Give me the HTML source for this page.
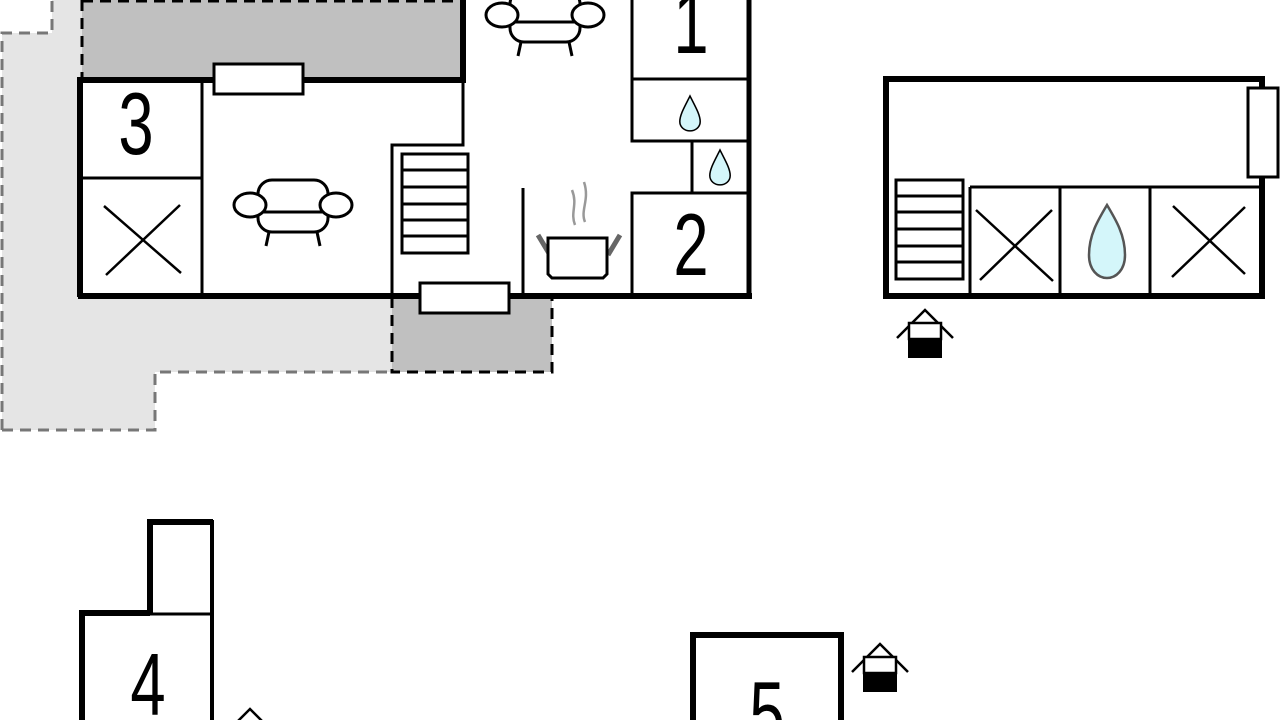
<!DOCTYPE html>
<html><head><meta charset="utf-8"><style>
html,body{margin:0;padding:0;background:#fff;width:1280px;height:720px;overflow:hidden;}
svg{display:block;}
text{font-family:"Liberation Sans",sans-serif;}
</style></head><body>
<svg width="1280" height="720" viewBox="0 0 1280 720" xmlns="http://www.w3.org/2000/svg" overflow="hidden">
<defs>
<g id="chair" fill="white" stroke="#000" stroke-width="3">
<rect x="-35" y="-30" width="70" height="52" rx="14"/>
<line x1="-33" y1="2" x2="33" y2="2"/>
<line x1="-24" y1="22" x2="-27" y2="36"/>
<line x1="24" y1="22" x2="27" y2="36"/>
<ellipse cx="-43" cy="-5" rx="16" ry="12"/>
<ellipse cx="43" cy="-5" rx="16" ry="12"/>
</g>
<g id="house">
<polyline points="-28,4 0,-24 28,4" fill="none" stroke="#000" stroke-width="2.5"/>
<rect x="-16" y="-11" width="32" height="16" fill="#fff" stroke="#000" stroke-width="2.5"/>
<rect x="-17" y="5" width="34" height="19" fill="#000"/>
</g>
<g id="drop"><path d="M0,-20 C6,-8 12,2 12,10 C12,17 6,21 0,21 C-6,21 -12,17 -12,10 C-12,2 -6,-8 0,-20Z" fill="#d4f6fa" stroke="#000" stroke-width="1.8"/></g>
</defs>

<path d="M2,33 L52,33 L52,0 L465,0 L465,297 L392,297 L392,372 L155,372 L155,430 L2,430 Z" fill="#e5e5e5"/>
<path d="M2,430 L2,33 L52,33 L52,0" fill="none" stroke="#777" stroke-width="3" stroke-dasharray="11,7"/>
<path d="M2,430 L155,430 L155,372 L392,372" fill="none" stroke="#777" stroke-width="3" stroke-dasharray="11,7"/>
<rect x="82" y="0" width="381" height="80" fill="#c0c0c0"/>
<line x1="82" y1="0" x2="82" y2="80" stroke="#000" stroke-width="3" stroke-dasharray="11,7"/>
<line x1="82" y1="1" x2="463" y2="1" stroke="#000" stroke-width="3" stroke-dasharray="11,7"/>
<rect x="392" y="297" width="160" height="75" fill="#c0c0c0"/>
<path d="M392,297 L392,372 L552,372 L552,297" fill="none" stroke="#000" stroke-width="3" stroke-dasharray="11,7"/>

<rect x="82" y="80" width="381" height="217" fill="#fff"/>
<rect x="463" y="0" width="287" height="297" fill="#fff"/>

<g stroke="#000" fill="none">
<path d="M80,297 L80,80 L463,80 L463,0" stroke-width="6"/>
<line x1="78" y1="296" x2="752" y2="296" stroke-width="6"/>
<line x1="749" y1="0" x2="749" y2="299" stroke-width="5"/>
<line x1="202" y1="80" x2="202" y2="297" stroke-width="3"/>
<line x1="80" y1="178" x2="202" y2="178" stroke-width="3"/>
<path d="M463,80 L463,145 L392,145 L392,297" stroke-width="3"/>
<line x1="523" y1="188" x2="523" y2="297" stroke-width="3"/>
<path d="M632,0 L632,141 L750,141" stroke-width="3"/>
<line x1="632" y1="79" x2="750" y2="79" stroke-width="3"/>
<line x1="692" y1="141" x2="692" y2="193" stroke-width="3"/>
<path d="M750,193 L632,193 L632,297" stroke-width="3"/>
<line x1="104" y1="206" x2="181" y2="273" stroke-width="2.5"/>
<line x1="180" y1="205" x2="106" y2="275" stroke-width="2.5"/>
</g>
<rect x="214" y="64" width="89" height="30" fill="#fff" stroke="#000" stroke-width="3"/>
<rect x="420" y="283" width="89" height="30" fill="#fff" stroke="#000" stroke-width="3"/>
<g stroke="#000" stroke-width="3" fill="none">
<rect x="402" y="154" width="66" height="99"/>
<line x1="402" y1="170" x2="468" y2="170"/><line x1="402" y1="187" x2="468" y2="187"/>
<line x1="402" y1="204" x2="468" y2="204"/><line x1="402" y1="220" x2="468" y2="220"/>
<line x1="402" y1="236" x2="468" y2="236"/>
</g>
<g>
<path d="M538,235 L550,255 M620,235 L608,255" stroke="#666" stroke-width="5"/>
<path d="M548,238 L607,238 L607,274 L603,278 L552,278 L548,274 Z" fill="#fff" stroke="#000" stroke-width="3"/>
<path d="M575,225 C570,212 578,205 572,190 M585,222 C580,210 590,200 584,182" stroke="#999" stroke-width="2.5" fill="none"/>
</g>
<use href="#chair" x="293" y="210"/>
<use href="#chair" x="545" y="20"/>
<g font-size="88" text-anchor="middle">
<text transform="translate(136,154) scale(0.72,1)">3</text>
<text transform="translate(691,53) scale(0.72,1)">1</text>
<text transform="translate(691,275) scale(0.72,1)">2</text>
<text transform="translate(148,715) scale(0.72,1)">4</text>
<text transform="translate(767,743) scale(0.72,1)">5</text>
</g>
<use href="#drop" transform="translate(690,113) scale(0.85)"/>
<use href="#drop" transform="translate(720,167) scale(0.85)"/>

<g stroke="#000" fill="none">
<rect x="886" y="79" width="376" height="217" stroke-width="6"/>
<line x1="970" y1="187" x2="1262" y2="187" stroke-width="3"/>
<line x1="970" y1="187" x2="970" y2="297" stroke-width="3"/>
<line x1="1060" y1="187" x2="1060" y2="297" stroke-width="3"/>
<line x1="1150" y1="187" x2="1150" y2="297" stroke-width="3"/>
<rect x="896" y="180" width="67" height="99" stroke-width="3"/>
<line x1="896" y1="196" x2="963" y2="196" stroke-width="3"/>
<line x1="896" y1="212" x2="963" y2="212" stroke-width="3"/>
<line x1="896" y1="229" x2="963" y2="229" stroke-width="3"/>
<line x1="896" y1="246" x2="963" y2="246" stroke-width="3"/>
<line x1="896" y1="262" x2="963" y2="262" stroke-width="3"/>
<line x1="976" y1="210" x2="1053" y2="281" stroke-width="2.5"/>
<line x1="1052" y1="210" x2="980" y2="280" stroke-width="2.5"/>
<line x1="1173" y1="206" x2="1245" y2="274" stroke-width="2.5"/>
<line x1="1245" y1="207" x2="1172" y2="277" stroke-width="2.5"/>
</g>
<rect x="1248" y="88" width="30" height="89" fill="#fff" stroke="#000" stroke-width="3"/>
<path d="M1107,205 C1116,220 1125,235 1125,255 C1125,270 1116,278 1107,278 C1098,278 1089,270 1089,255 C1089,235 1098,220 1107,205Z" fill="#d4f6fa" stroke="#555" stroke-width="2.5"/>
<use href="#house" x="925" y="334"/>

<g stroke="#000" fill="none">
<path d="M82,720 L82,613 L150,613" stroke-width="6"/>
<path d="M150,613 L150,522 L213,522" stroke-width="6"/>
<line x1="212" y1="520" x2="212" y2="720" stroke-width="4"/>
<line x1="150" y1="614" x2="212" y2="614" stroke-width="3"/>
</g>
<use href="#house" x="250" y="733"/>

<path d="M693,720 L693,635 L841,635 L841,720" fill="none" stroke="#000" stroke-width="6"/>
<use href="#house" x="880" y="668"/>
</svg>
</body></html>
